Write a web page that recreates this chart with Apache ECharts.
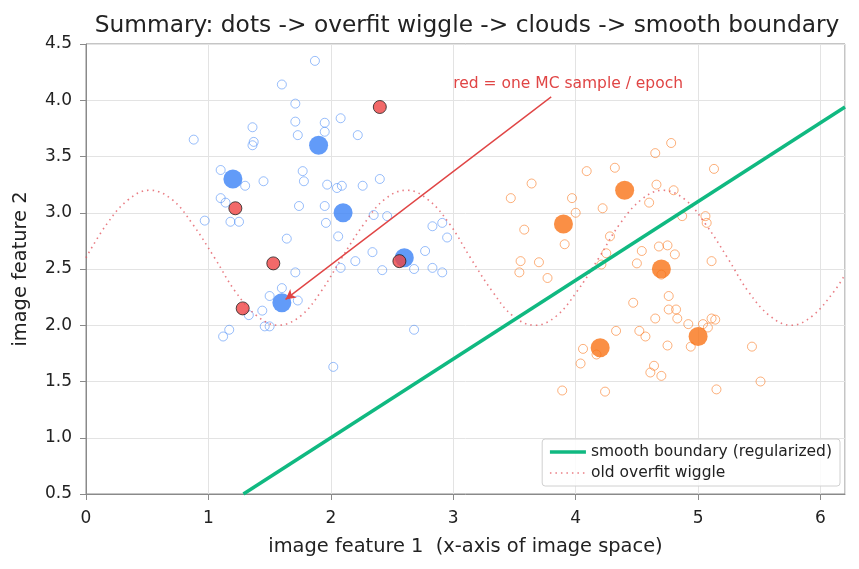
<!DOCTYPE html>
<html>
<head>
<meta charset="utf-8">
<script src="https://cdn.jsdelivr.net/npm/echarts@6/dist/echarts.min.js"></script>
<style>
  html, body { margin: 0; padding: 0; background: #fff; }
  #main { width: 859px; height: 569px; }
</style>
</head>
<body>
<div id="main"></div>
<script>
// blue cloud (hollow)
const bluePoints = [
  [1.87, 4.35], [1.60, 4.14], [1.71, 3.97], [1.71, 3.81], [1.95, 3.80], [2.08, 3.84],
  [1.36, 3.76], [1.95, 3.72], [1.73, 3.69], [2.22, 3.69], [0.88, 3.65], [1.37, 3.63],
  [1.36, 3.60], [1.10, 3.38], [1.77, 3.37], [1.30, 3.24], [1.45, 3.28], [1.78, 3.28],
  [1.97, 3.25], [2.05, 3.22], [2.09, 3.24], [2.26, 3.24], [2.40, 3.30], [1.10, 3.13],
  [1.14, 3.09], [1.74, 3.06], [1.95, 3.06], [0.97, 2.93], [1.18, 2.92], [1.25, 2.92],
  [1.96, 2.91], [2.35, 2.98], [2.46, 2.97], [1.64, 2.77], [2.06, 2.79], [2.83, 2.88],
  [2.91, 2.91], [2.95, 2.78], [2.34, 2.65], [2.20, 2.57], [2.77, 2.66], [2.08, 2.51],
  [1.71, 2.47], [2.42, 2.49], [2.68, 2.50], [2.83, 2.51], [2.91, 2.47], [1.60, 2.33],
  [1.50, 2.26], [1.73, 2.22], [1.44, 2.13], [1.33, 2.09], [1.46, 1.99], [1.50, 1.99],
  [1.17, 1.96], [1.12, 1.90], [2.68, 1.96], [2.02, 1.63]
];
// orange cloud (hollow)
const orangePoints = [
  [4.78, 3.62], [4.65, 3.53], [4.09, 3.37], [4.32, 3.40], [5.13, 3.39], [3.64, 3.26],
  [3.47, 3.13], [3.97, 3.13], [4.66, 3.25], [4.80, 3.20], [4.60, 3.09], [4.22, 3.04],
  [4.00, 3.00], [4.87, 2.97], [5.06, 2.97], [5.07, 2.91], [3.58, 2.85], [4.28, 2.79],
  [3.91, 2.72], [4.68, 2.70], [4.75, 2.71], [4.54, 2.66], [4.25, 2.64], [4.81, 2.63],
  [3.55, 2.57], [3.70, 2.56], [4.50, 2.55], [4.21, 2.54], [5.11, 2.57], [3.54, 2.47],
  [3.77, 2.42], [4.70, 2.45], [4.76, 2.26], [4.47, 2.20], [4.76, 2.14], [4.82, 2.14],
  [4.65, 2.06], [4.83, 2.06], [4.92, 2.01], [5.04, 2.01], [5.11, 2.06], [5.14, 2.05],
  [5.08, 1.98], [4.33, 1.95], [4.52, 1.95], [4.57, 1.90], [4.75, 1.82], [4.94, 1.81],
  [5.44, 1.81], [4.06, 1.79], [4.17, 1.74], [4.04, 1.66], [4.64, 1.64], [4.61, 1.58],
  [4.70, 1.55], [5.51, 1.50], [3.89, 1.42], [4.24, 1.41], [5.15, 1.43]
];
// the big "dots"
const blueCenters = [[1.2, 3.3], [1.9, 3.6], [2.1, 3.0], [2.6, 2.6], [1.6, 2.2]];
const orangeCenters = [[3.9, 2.9], [4.4, 3.2], [4.7, 2.5], [5.0, 1.9], [4.2, 1.8]];
// red MC samples
const mcSamples = [[2.40, 3.94], [1.22, 3.04], [1.53, 2.55], [2.56, 2.57], [1.28, 2.15]];
// old overfit wiggle, sampled off the curve
const wiggleX = [0, 0.17, 0.35, 0.52, 0.70, 0.87, 1.05, 1.22, 1.40, 1.57, 1.75, 1.92,
  2.09, 2.27, 2.44, 2.62, 2.79, 2.97, 3.14, 3.32, 3.49, 3.67, 3.84, 4.01,
  4.19, 4.36, 4.54, 4.71, 4.89, 5.06, 5.24, 5.41, 5.59, 5.76, 5.93, 6.11, 6.2];
const wiggleY = [2.60, 2.90, 3.12, 3.20, 3.12, 2.90, 2.60, 2.30, 2.08, 2.00, 2.08, 2.30,
  2.60, 2.90, 3.12, 3.20, 3.12, 2.90, 2.60, 2.30, 2.08, 2.00, 2.08, 2.30,
  2.60, 2.90, 3.12, 3.20, 3.12, 2.90, 2.60, 2.30, 2.08, 2.00, 2.08, 2.30, 2.45];
// smooth boundary endpoints
const boundary = [[1.286, 0.5], [6.2, 3.94]];
// annotation
const noteText = 'red = one MC sample / epoch';
const noteAt = [3.0, 4.1];
const arrowFrom = [3.8, 4.03];
const arrowTo = [1.63, 2.23];

const xTicks = { min: 0, max: 6.2, interval: 1 };
const yTicks = { min: 0.5, max: 4.5, interval: 0.5 };

const font = 'DejaVu Sans, sans-serif';
const chart = echarts.init(document.getElementById('main'));

const option = {
  animation: false,
  title: {
    text: 'Summary: dots -> overfit wiggle -> clouds -> smooth boundary',
    left: 462, top: 9, textAlign: 'center',
    textStyle: { fontFamily: font, fontSize: 23.3, fontWeight: 'normal', color: '#222' }
  },
  grid: {
    left: 86, right: 14, top: 44, bottom: 75,
    show: true, borderColor: '#8a8a8a', borderWidth: 1
  },
  legend: {
    data: [
      { name: 'smooth boundary (regularized)', lineStyle: { width: 3.5 } },
      { name: 'old overfit wiggle', lineStyle: { width: 1.6 } }
    ],
    orient: 'vertical',
    right: 19, bottom: 83,
    itemWidth: 36, itemHeight: 10, itemGap: 5,
    padding: [5, 8, 5, 6],
    itemStyle: { opacity: 0 },
    backgroundColor: 'rgba(255,255,255,0.85)',
    borderColor: '#d0d0d0', borderWidth: 1, borderRadius: 3,
    textStyle: { fontFamily: font, fontSize: 15.5, color: '#222' }
  },
  xAxis: {
    type: 'value',
    min: xTicks.min, max: xTicks.max, interval: xTicks.interval,
    name: 'image feature 1  (x-axis of image space)',
    nameLocation: 'middle', nameGap: 43,
    nameTextStyle: { fontFamily: font, fontSize: 19.4, color: '#222' },
    axisLine: { show: true, onZero: false, lineStyle: { color: '#8a8a8a' } },
    axisTick: { show: true, length: 6, lineStyle: { color: '#8a8a8a' } },
    axisLabel: { fontFamily: font, fontSize: 17, color: '#222', margin: 16, showMaxLabel: false },
    splitLine: { lineStyle: { color: '#e3e3e3' } }
  },
  yAxis: {
    type: 'value',
    min: yTicks.min, max: yTicks.max, interval: yTicks.interval,
    name: 'image feature 2',
    nameLocation: 'middle', nameGap: 56,
    nameTextStyle: { fontFamily: font, fontSize: 19.4, color: '#222' },
    axisLine: { show: true, onZero: false, lineStyle: { color: '#8a8a8a' } },
    axisTick: { show: true, length: 6, lineStyle: { color: '#8a8a8a' } },
    axisLabel: { fontFamily: font, fontSize: 17, color: '#222', margin: 14,
      formatter: v => v.toFixed(1) },
    splitLine: { lineStyle: { color: '#e3e3e3' } }
  },
  series: [
    {
      name: 'blue cloud', type: 'scatter', data: bluePoints, symbolSize: 9,
      itemStyle: { color: 'rgba(0,0,0,0)', borderColor: 'rgba(59,130,246,0.65)', borderWidth: 1 }
    },
    {
      name: 'orange cloud', type: 'scatter', data: orangePoints, symbolSize: 9,
      itemStyle: { color: 'rgba(0,0,0,0)', borderColor: 'rgba(249,115,22,0.7)', borderWidth: 1 }
    },
    {
      name: 'old overfit wiggle', type: 'line', smooth: 0.4, symbol: 'none',
      data: wiggleX.map((x, i) => [x, wiggleY[i]]),
      lineStyle: { color: 'rgba(226,80,90,0.75)', width: 1.6, type: [1.5, 4] },
      itemStyle: { color: 'rgba(226,80,90,0.75)' }
    },
    {
      name: 'blue dots', type: 'scatter', data: blueCenters, symbolSize: 19,
      itemStyle: { color: '#3b82f6' }
    },
    {
      name: 'orange dots', type: 'scatter', data: orangeCenters, symbolSize: 19,
      itemStyle: { color: '#f97316' }
    },
    {
      name: 'mc samples', type: 'scatter', data: mcSamples, symbolSize: 13,
      itemStyle: { color: '#ef4444', borderColor: '#222', borderWidth: 1 },
      markLine: {
        silent: true, symbol: ['none', 'arrow'], symbolSize: [8, 10],
        label: { show: false },
        lineStyle: { color: '#e04545', width: 1.4, type: 'solid' },
        data: [[{ coord: arrowFrom }, { coord: arrowTo }]]
      },
      markPoint: {
        silent: true, symbol: 'circle', symbolSize: 0,
        data: [{ coord: noteAt, value: noteText }],
        label: {
          show: true, formatter: noteText, position: [0, 3],
          align: 'left', verticalAlign: 'bottom',
          fontFamily: font, fontSize: 15.5, color: '#e04545'
        }
      }
    },
    {
      name: 'smooth boundary (regularized)', type: 'line', data: boundary, symbol: 'none',
      lineStyle: { color: '#10b981', width: 3.5 },
      itemStyle: { color: '#10b981' }
    }
  ]
};
chart.setOption(option);
</script>
</body>
</html>
